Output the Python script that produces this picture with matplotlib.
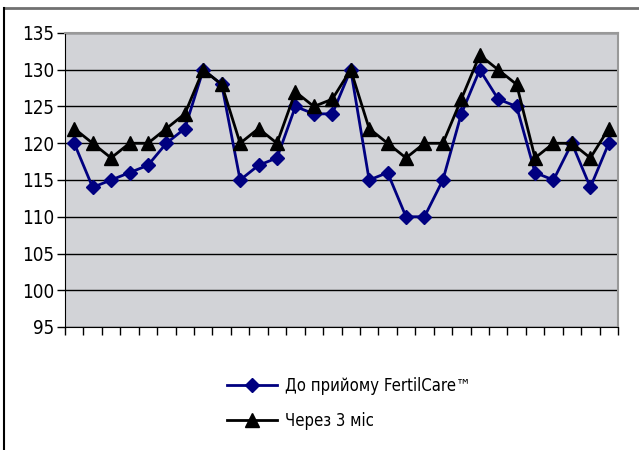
import matplotlib
matplotlib.use("Agg")
import matplotlib.pyplot as plt
import numpy as np
from matplotlib.lines import Line2D

before = [120,114,115,116,117,120,122,130,128,115,117,118,125,124,124,130,115,116,110,110,115,124,130,126,125,116,115,120,114,120]
after3 = [122,120,118,120,120,122,124,130,128,120,122,120,127,125,126,130,122,120,118,120,120,126,132,130,128,118,120,120,118,122]
labels = ["До прийому FertilCare™", "Через 3 міс"]
yticks = [95,100,105,110,115,120,125,130,135]

plt.rcParams['font.family'] = ['DejaVu Sans']
plt.rcParams['font.stretch'] = 'condensed'
fig = plt.figure(figsize=(6.39, 4.5), dpi=100)
ax = fig.add_axes([65/639, 1-327/450, (618-65)/639, (327-33)/450])
ax.set_facecolor('#D2D3D7')
x = np.arange(len(before))
l1, = ax.plot(x, before, color='#000080', lw=2, marker='D', ms=7.5, mfc='#000080', mec='#000080', zorder=3)
l2, = ax.plot(x, after3, color='black', lw=2, marker='^', ms=9.5, mfc='black', mec='black', zorder=4)
ax.set_xlim(-0.5, len(before)-0.5)
ax.set_ylim(95, 135)
ax.set_yticks(yticks)
ax.set_yticklabels([str(v) for v in yticks], fontsize=13.5)
ax.yaxis.grid(True, color='black', lw=1)
ax.set_axisbelow(True)
ax.set_xticks(np.arange(-0.5, len(before), 1))
ax.set_xticklabels([])
ax.tick_params(axis='x', length=6, width=1, color='black', direction='out')
ax.tick_params(axis='y', length=6, width=1, color='black', direction='out', pad=2)
for s in ['top', 'right']:
    ax.spines[s].set_color('#999999')
    ax.spines[s].set_linewidth(1.5)
ax.spines['left'].set_color('black')
ax.spines['bottom'].set_color('black')

fig.legend([l1, l2], labels, loc='upper left', bbox_to_anchor=(212/639, 1-362/450),
           frameon=False, fontsize=12, handlelength=3.0, labelspacing=1.0, handletextpad=0.5)
fig.lines.append(Line2D([3.5/639, 1], [1-7.5/450, 1-7.5/450], transform=fig.transFigure, color='#707070', lw=2))
fig.lines.append(Line2D([3.5/639, 3.5/639], [0, 1-7.5/450], transform=fig.transFigure, color='black', lw=1.5))
fig.savefig('out.png', dpi=100)
